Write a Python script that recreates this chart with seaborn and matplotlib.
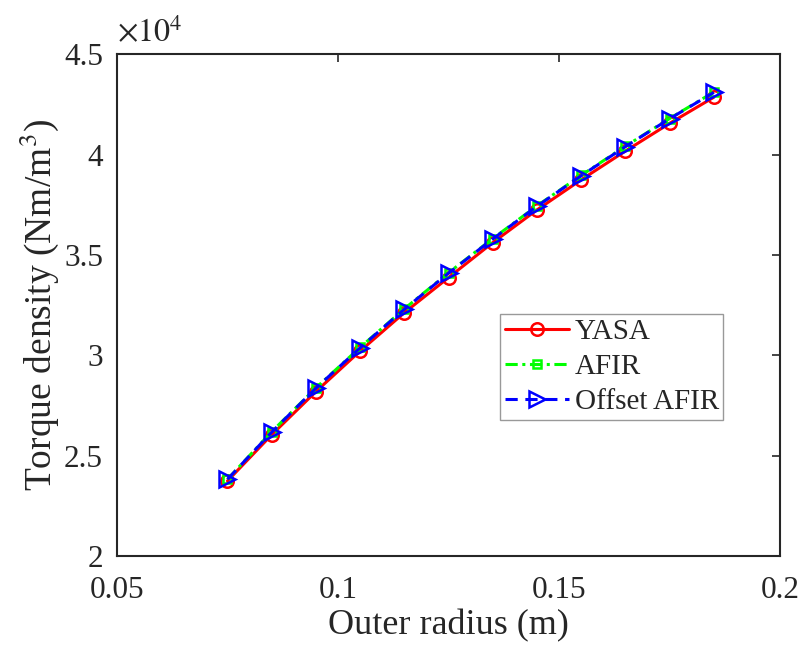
import numpy as np
import pandas as pd
import matplotlib
matplotlib.use("Agg")
import matplotlib.pyplot as plt
import seaborn as sns
from matplotlib.ticker import FuncFormatter

radius = [0.075, 0.085, 0.095, 0.105, 0.115, 0.125, 0.135, 0.145, 0.155, 0.165, 0.175, 0.185]
yasa = [23750, 26050, 28200, 30220, 32130, 33880, 35620, 37250, 38750, 40180, 41560, 42860]
afir = [23830, 26200, 28380, 30400, 32320, 34120, 35820, 37450, 38970, 40420, 41800, 43120]
offset_afir = [23830, 26180, 28370, 30380, 32300, 34100, 35800, 37430, 38950, 40400, 41790, 43100]
series_names = ["YASA", "AFIR", "Offset AFIR"]
x_ticks = [0.05, 0.1, 0.15, 0.2]
y_ticks = [2.0, 2.5, 3.0, 3.5, 4.0, 4.5]

sns.set_style("white")
plt.rcParams['font.family'] = ['Liberation Serif', 'DejaVu Serif']
plt.rcParams['mathtext.fontset'] = 'stix'

fig = plt.figure(figsize=(8.01, 6.46), dpi=100)
ax = fig.add_axes([0.146, 0.139, 0.828, 0.777])

styles = [
    dict(color="#ff0000", marker="o", linestyle="-", markersize=9),
    dict(color="#00ff00", marker="s", linestyle=(0, (4, 1.5, 1, 1.5)), markersize=6),
    dict(color="#0000ff", marker=">", linestyle=(0, (4, 2.5)), markersize=11),
]
for name, vals, st in zip(series_names, [yasa, afir, offset_afir], styles):
    df = pd.DataFrame({"r": radius, "t": np.array(vals) / 1e4})
    sns.lineplot(data=df, x="r", y="t", ax=ax, label=name, linewidth=2.2, color=st["color"])
    ln = ax.lines[-1]
    ln.set_linestyle(st["linestyle"])
    ln.set_marker(st["marker"])
    ln.set_markersize(st["markersize"])
    ln.set_markerfacecolor("none")
    ln.set_markeredgecolor(st["color"])
    ln.set_markeredgewidth(1.8)

ax.set_xlim(0.05, 0.2)
ax.set_ylim(2.0, 4.5)
ax.set_xticks(x_ticks)
ax.set_yticks(y_ticks)
ax.xaxis.set_major_formatter(FuncFormatter(lambda v, p: f"{v:g}"))
ax.yaxis.set_major_formatter(FuncFormatter(lambda v, p: f"{v:g}"))
ax.tick_params(direction="in", length=6, width=1.2, labelsize=22.5, colors="#262626",
               top=True, right=True)
ax.tick_params(axis="x", pad=14)
ax.tick_params(axis="y", pad=10)
for s in ax.spines.values():
    s.set_visible(True)
    s.set_color("#262626")
    s.set_linewidth(1.5)

ax.set_xlabel("Outer radius (m)", fontsize=26, color="#262626", labelpad=3)
ax.set_ylabel("Torque density (Nm/m$^3$)", fontsize=27, color="#262626", labelpad=2)
ax.text(0.0, 1.01, r"$\times10^4$", transform=ax.transAxes, fontsize=23, color="#262626",
        ha="left", va="bottom")

leg = ax.legend(loc="upper left", bbox_to_anchor=(0.578, 0.482), borderaxespad=0,
                fontsize=21, frameon=True, fancybox=False, handlelength=2.2,
                handletextpad=0.2, labelspacing=0.3, borderpad=0.15)
leg.get_frame().set_edgecolor("#808080")
leg.get_frame().set_linewidth(1.0)

fig.savefig("out.png", dpi=100)
